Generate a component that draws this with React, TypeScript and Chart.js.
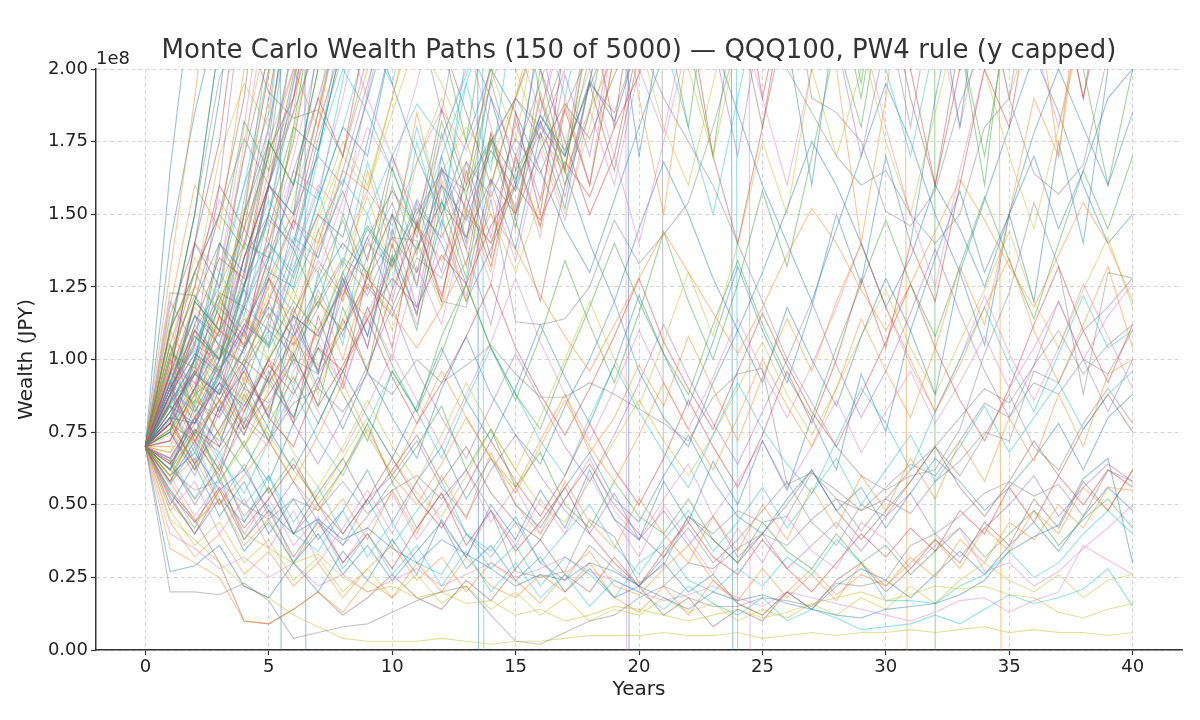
import React, { useEffect, useRef } from "react";
import { Chart, registerables } from "chart.js";

Chart.register(...registerables);

const TITLE = "Monte Carlo Wealth Paths (150 of 5000) — QQQ100, PW4 rule (y capped)";
const X_LABEL = "Years";
const Y_LABEL = "Wealth (JPY)";
const Y_OFFSET_LABEL = "1e8";
const FONT = "'DejaVu Sans', sans-serif";

const years = [0,1,2,3,4,5,6,7,8,9,10,11,12,13,14,15,16,17,18,19,20,21,22,23,24,25,26,27,28,29,30,31,32,33,34,35,36,37,38,39,40];
const xTicks = [0,5,10,15,20,25,30,35,40];
// wealth in millions of JPY (axis shows units of 1e8)
const yTicks = [0,25,50,75,100,125,150,175,200];

// tab10 palette
const palette: Record<string, string> = {
  b: "31,119,180", o: "255,127,14", g: "44,160,44", r: "214,39,40", p: "148,103,189",
  n: "140,86,75", k: "227,119,194", a: "127,127,127", y: "188,189,34", c: "23,190,207",
};

// Paths that leave the capped range early (values in millions JPY)
const fastPaths = [
  [70,165,235],
  [70,130,190,260],
  [70,110,150,210],
  [70,95,140,175,240],
  [70,120,105,160,230],
  [70,88,120,150,190,260],
  [70,100,90,130,170,230],
  [70,80,110,100,150,210],
  [70,105,135,120,175,215],
  [70,92,85,125,160,185,250],
  [70,75,100,140,130,175,240],
  [70,110,95,115,150,200,260],
  [70,85,120,110,145,170,230],
  [70,98,125,160,145,190,240],
  [70,78,95,88,120,160,210],
  [70,115,140,125,170,205],
  [70,90,70,105,140,180,225],
  [70,123,122,110,155,198,230],
  [70,100,125,170,195,180,260],
  [70,85,100,130,115,150,195,250],
  [70,80,78,100,125,160,150,210],
  [70,95,110,95,130,165,185,240],
  [70,105,88,120,140,135,180,230],
  [70,72,90,115,105,145,175,220],
  [70,88,105,100,135,150,190,240],
  [70,82,96,123,118,160,198,215],
  [70,97,92,80,110,140,170,205],
  [70,110,130,150,176,160,195,230],
  [70,76,86,105,98,120,155,185,240],
  [70,90,82,95,120,140,130,170,220],
  [70,140,185,220],
  [70,118,160,145,200,250],
  [70,102,97,138,182,165,210],
  [70,87,112,135,128,172,190,235],
  [70,93,78,92,118,110,148,185,225],
  [70,108,150,197,215,192,183,186,170,205,260],
  [70,84,70,90,112,106,136,160,150,192,240],
  [70,79,101,94,126,148,140,176,205],
  [70,112,125,118,152,140,178,220],
  [70,96,103,88,104,130,162,155,196,240],
];
const fastColors = "bogrpnkaycbogrpnkaycbogrpnkaycbogrpakayc";

// Paths that wander upward and leave the range between years 9 and 22
const midPaths = [
  [70,85,65,95,78,110,90,130,105,150,125,175,145,205],
  [70,62,84,70,98,80,115,95,130,108,150,125,170,140,190,160,215],
  [70,100,80,115,92,128,105,145,120,165,138,185,150,120,160,190,225],
  [70,58,76,62,88,72,102,84,118,96,135,110,155,128,175,145,200,165,215],
  [70,92,72,60,82,100,78,115,92,130,104,148,120,165,135,185,150,210],
  [70,75,60,82,98,80,110,90,126,104,145,118,165,138,112,150,182,156,196,230],
  [70,105,82,98,76,94,118,96,128,104,140,115,160,132,178,148,120,160,195,165,205],
  [70,66,80,64,86,72,96,110,90,118,100,132,112,150,126,170,142,190,160,215],
  [70,80,98,82,104,120,100,128,148,124,160,136,178,150,196,165,210],
  [70,60,74,86,70,90,108,88,114,132,110,140,118,152,130,170,145,188,160,205],
  [70,95,115,96,124,104,135,158,132,168,142,180,152,195,165,225],
  [70,88,74,96,110,92,80,106,128,108,136,116,148,126,162,138,178,152,196,232],
  [70,70,88,74,94,82,104,122,100,130,150,126,162,138,178,150,192,165,218],
  [70,102,122,104,90,114,138,118,150,128,166,142,182,156,196,240],
  [70,78,64,84,96,80,70,92,114,96,124,146,122,156,132,170,146,186,160,205],
  [70,84,100,86,74,94,112,96,122,142,120,154,130,168,142,182,155,198,170,215],
  [70,90,106,122,104,128,110,138,158,134,170,146,186,160,202],
  [70,66,80,92,78,70,88,106,90,116,134,112,144,122,158,134,172,148,186,160,200,178,220],
  [70,86,96,82,100,116,98,124,108,136,154,130,166,142,176,152,190,166,205],
  [70,74,88,102,118,100,124,106,134,156,132,168,190,162,200,175,222],
  [70,82,96,88,104,118,108,126,140,130,150,138,160,148,172,158,184,170,196,182,210],
  [70,68,80,94,86,100,92,110,124,114,132,146,134,152,140,162,178,164,186,205],
  [70,96,84,100,114,104,120,110,130,146,134,152,142,160,176,162,184,172,194,215],
  [70,64,76,70,84,98,88,104,96,114,128,118,136,126,146,160,148,168,156,180,198,230],
  [70,90,104,96,112,128,116,134,122,142,158,146,166,152,174,190,176,200,225],
  [70,78,72,86,100,92,108,120,110,128,118,138,154,142,162,150,172,188,176,198,215],
  [70,100,92,110,124,114,132,150,138,158,146,168,186,172,194,220],
  [70,72,86,80,96,110,102,118,134,122,142,130,150,168,156,176,164,186,206],
  [70,86,80,94,108,100,116,132,120,140,158,144,164,180,168,190,212],
  [70,94,108,100,118,136,124,144,162,150,170,188,176,198,225],
];
const midColors = "cbogrpnkaycbogrpnkaybogrpnkayc";

// Paths that hover around or above the cap through the later years
const highPaths = [
  [70,90,105,120,110,135,150,170,160,190,220,240,210,230,260,250,280,300,260,240,230,260,240,280,250,230,240,190,185,175,151,146,158,188,210,250,280,300,320,340,360],
  [70,65,80,72,90,85,100,95,110,125,115,135,128,150,140,165,180,170,195,185,210,190,175,160,140,120,100,85,70,60,55,60,62,76,102,123,154,132,88,130,128],
  [70,75,88,95,82,100,115,108,125,140,132,150,165,158,175,190,180,205,220,210,230,250,235,260,240,220,200,185,170,160,165,150,140,150,180,190,164,157,167,205,240],
  [70,88,102,95,125,150,138,172,210,250,230,290,260,310,240,200,260,320,280,230,170,220,290,260,330,280,210,160,220,300,350,290,230,180,240,300,260,330,290,230,260],
  [70,95,118,108,140,170,200,180,230,270,240,300,360,320,260,210,270,330,300,240,190,150,210,270,320,380,310,250,200,140,190,260,320,280,340,290,230,170,240,310,280],
  [70,110,130,150,138,175,160,200,245,220,270,240,210,175,230,290,350,300,250,330,280,220,180,240,300,270,330,290,240,195,250,310,260,210,160,230,300,270,320,260,220],
  [70,78,100,118,108,135,160,190,170,215,260,230,280,250,200,240,300,270,220,180,240,300,350,300,240,190,230,280,250,300,350,300,240,200,250,310,270,220,280,330,290],
  [70,92,110,125,145,130,165,190,220,200,250,220,185,230,280,260,210,170,220,270,240,290,260,210,170,220,280,250,300,270,220,180,230,280,250,300,260,210,250,230,270],
  [70,72,90,105,98,120,140,130,155,180,165,195,230,210,180,150,185,220,200,170,140,175,210,250,220,190,160,200,240,215,180,150,125,165,200,240,210,180,220,260,230],
  [70,68,85,100,115,105,128,150,175,160,190,220,205,250,230,200,175,150,180,215,250,230,200,170,210,250,230,270,240,210,175,150,185,220,200,170,145,180,215,250,280],
  [70,82,95,110,126,140,128,155,180,210,195,230,270,240,290,260,220,190,230,270,250,210,180,150,190,230,260,300,270,230,200,170,210,250,230,270,240,200,230,270,250],
  [70,66,80,92,84,100,115,108,126,145,132,155,140,120,138,160,182,165,140,120,145,168,150,128,110,130,152,175,160,140,118,135,160,145,125,150,178,200,180,160,185],
  [70,60,75,86,78,92,106,98,112,126,116,104,118,134,150,138,122,108,96,112,128,144,130,116,102,118,136,152,140,124,110,126,144,162,148,132,118,136,154,140,120],
  [70,85,95,105,98,112,105,120,135,128,142,141,120,118,155,113,112,114,125,148,133,143,154,180,210,240],
  [70,62,75,68,80,72,85,90,82,95,88,100,92,98,105,95,87,87,92,88,83,78,72,87,95,97,57,61,55,48,52,62,70,80,90,85,98,110,95,105,112],
  [70,100,130,115,150,175,160,200,230,260,240,280,250,230,210,240,190,160,185,230,280,250,210,170,230,280,330,280,230,190,240,300,260,210,170,220,280,250,200,160,200],
  [70,85,110,100,135,160,145,180,210,240,270,250,300,280,260,230,200,175,150,170,210,250,220,170,140,180,230,270,310,280,240,200,160,200,250,300,270,230,190,230,280],
  [70,95,120,140,125,160,190,220,250,230,260,240,210,185,160,190,215,240,280,250,300,340,300,260,220,180,220,260,300,270,230,190,160,210,260,300,270,230,190,240,220],
  [70,78,90,110,102,128,148,135,165,195,225,250,230,210,190,170,195,225,255,300,270,230,200,240,280,320,290,250,210,170,210,250,300,270,230,190,240,290,260,220,250],
  [70,105,130,155,140,175,200,230,215,190,170,150,175,200,230,210,185,215,250,290,260,220,250,300,270,230,200,240,280,330,300,260,220,180,220,260,300,270,240,200,230],
  [70,88,112,100,130,155,140,172,200,185,165,145,170,195,220,245,280,250,220,260,300,270,240,200,240,280,320,290,250,210,240,280,320,290,250,300,340,300,260,220,250],
  [70,75,95,88,110,132,120,148,170,158,185,210,195,175,150,130,155,175,200,230,210,180,160,195,230,260,230,200,170,200,240,270,300,260,230,190,220,260,300,270,240],
  [70,92,115,105,135,160,185,210,240,220,195,170,150,175,200,185,165,145,130,155,180,205,230,210,185,160,140,120,145,170,195,175,150,130,155,180,205,185,160,140,150],
];
const highColors = "aaabogrpkycboaagrnpkcyb";

// Paths that stay in the middle band and then climb late
const lateRisers = [
  [70,58,66,50,60,72,58,48,62,76,60,50,64,80,66,54,70,86,70,58,74,92,76,62,80,100,84,70,90,114,96,80,104,132,112,150,190,170,230,270,300],
  [70,80,64,76,92,76,62,78,96,80,66,84,104,86,72,90,112,94,78,98,122,102,84,106,132,110,92,118,150,126,170,140,190,230,200,260,300,280,320,360,400],
  [70,62,74,58,70,84,68,56,70,86,70,58,74,92,76,62,80,100,120,100,84,106,130,108,140,175,150,200,240,210,260,300,280,330,300,350,400,380,420,460,500],
  [70,54,44,56,42,52,64,50,40,52,66,52,42,56,72,58,46,60,78,62,50,66,86,70,56,74,96,78,100,128,104,140,120,160,200,180,230,210,260,240,280],
  [70,76,90,74,62,78,94,78,96,118,98,82,102,126,104,86,108,134,112,92,116,144,120,100,126,158,132,170,210,180,230,200,250,220,270,240,290,260,300,280,320],
];
const lateColors = "obyrg";

// Paths that stay low
const lowPaths = [
  [70,20,20,19,23,17,4,6,8,9,13,17,20,22,12,3,2,6,10,12,18,22,18,15,15,18,17,15,23,22,24,36,40,46,54,58,53,57,46,62,58],
  [70,62,55,58,50,45,52,48,58,47,55,60,52,62,48,27,25,27,45,39,23,29,46,40,48,44,46,61,52,41,52,47,58,65,75,72,96,92,110,118,128],
  [70,27,29,36,22,18,30,20,34,24,38,26,45,32,50,38,55,42,62,45,38,58,44,65,50,72,55,80,62,95,75,110,88,130,105,150,120,175,140,200,230],
  [70,45,38,30,22,18,12,8,4,3,3,3,4,3,2,3,3,4,5,5,5,6,5,5,6,4,5,6,5,6,6,7,6,7,8,6,7,6,6,5,6],
  [70,50,42,55,40,35,30,33,25,20,22,18,20,16,17,12,14,10,12,15,14,12,10,12,14,11,13,16,18,20,17,19,22,21,22,19,18,13,11,14,16],
  [70,55,42,60,38,50,30,45,28,40,26,36,22,34,20,30,18,26,15,24,20,14,22,16,12,18,10,14,11,7,8,9,12,9,14,19,16,18,21,28,15],
  [70,40,35,28,32,25,30,22,26,20,24,28,22,26,30,25,28,32,27,24,20,17,19,22,18,15,20,18,16,14,12,10,13,17,18,13,17,20,36,31,26],
  [70,60,68,55,62,48,40,45,38,42,35,30,38,33,28,22,26,24,30,27,22,18,14,20,17,19,16,14,12,11,14,15,16,19,24,34,39,43,59,66,30],
  [70,48,58,40,52,35,48,30,42,55,40,58,44,32,48,36,52,40,60,45,32,50,38,26,42,30,46,34,28,44,38,28,36,42,27,30,22,27,35,42,50],
  [70,35,30,25,10,9,14,20,13,24,18,30,20,32,22,18,26,20,30,18,13,22,12,24,17,28,18,26,17,30,22,32,25,38,30,44,38,50,42,56,55],
  [70,58,44,52,36,45,30,42,52,38,55,40,60,45,68,50,40,58,44,35,52,40,30,46,34,50,38,56,42,60,48,66,52,72,58,80,65,88,70,95,100],
  [70,55,45,30,10,9,14,20,12,18,26,18,14,24,17,28,38,26,20,32,22,12,18,8,14,10,20,14,24,30,20,28,38,30,44,36,52,42,58,48,62],
  [70,50,64,46,58,40,52,38,48,62,44,58,70,52,66,50,42,56,68,52,44,60,74,58,46,40,52,62,48,56,42,54,66,58,48,56,66,78,62,80,88],
  [70,58,72,52,44,60,40,34,48,32,44,30,26,40,28,36,22,32,26,18,30,36,24,20,28,22,32,26,38,30,17,17,16,22,26,34,25,30,40,48,40],
  [70,62,80,58,72,54,66,50,62,78,58,70,84,62,76,56,68,50,42,58,46,40,52,38,30,44,34,28,40,30,36,26,34,42,32,40,48,36,45,52,42],
  [70,52,40,55,38,48,32,44,30,40,28,42,54,36,48,34,44,56,40,30,22,34,44,32,26,38,28,20,30,40,32,42,34,48,40,56,44,60,50,62,56],
  [70,57,70,50,64,46,58,44,36,52,60,72,56,46,62,74,60,48,40,54,38,48,36,46,32,40,28,36,44,34,46,54,40,32,42,50,60,46,56,64,58],
  [70,65,50,64,44,56,40,54,66,50,62,74,58,70,54,44,38,52,64,50,40,32,46,38,30,40,50,62,48,38,48,58,70,56,46,58,72,60,76,88,75],
  [70,48,36,44,30,38,24,32,20,28,18,26,16,22,14,20,12,18,10,14,12,18,13,16,10,14,11,16,12,18,14,22,16,24,30,24,20,26,18,24,26],
  [70,66,52,68,50,60,44,56,40,52,36,48,58,40,34,46,30,40,50,36,26,38,48,34,44,56,42,54,66,50,62,74,58,70,84,68,80,92,76,88,96],
  [70,44,32,40,26,34,22,30,18,28,36,24,32,20,30,24,16,26,34,22,19,28,36,24,16,12,20,28,19,26,22,30,38,28,42,34,48,40,56,48,62],
  [70,60,46,58,40,52,36,46,30,42,54,38,50,62,44,56,40,52,66,48,38,52,64,46,58,72,56,70,86,68,82,96,78,92,108,90,104,120,100,115,126],
  [70,64,52,62,46,56,40,50,36,46,58,42,54,40,32,44,30,24,36,28,22,32,42,30,38,48,58,44,36,50,46,58,70,60,74,88,70,62,78,90,78],
  [70,53,40,52,34,44,30,40,26,36,24,34,44,28,36,24,32,20,28,18,22,30,20,26,16,12,20,14,22,28,24,18,26,34,26,36,44,34,46,56,48],
];
const lowColors = "aabyyckbkoonbcgrpnycokab";

// Paths that stay in the middle band
const middlePaths = [
  [70,75,62,84,70,58,78,94,76,96,80,66,90,108,88,74,64,84,100,120,96,80,70,92,110,92,118,100,84,108,128,110,135,158,130,150,170,145,165,190,200],
  [70,80,62,76,90,72,58,74,92,74,60,78,96,80,66,56,72,88,68,80,98,84,108,90,72,94,114,96,120,140,118,100,82,98,118,135,110,92,112,132,104],
  [70,62,80,66,54,72,90,72,60,78,96,82,66,86,104,88,72,60,80,98,82,68,56,74,92,76,64,54,72,90,78,62,82,100,118,98,82,102,122,104,110],
  [70,84,68,90,74,96,80,104,88,72,96,82,108,126,104,88,76,98,118,140,120,102,88,112,134,112,94,80,104,126,148,126,108,132,156,134,114,140,165,145,170],
  [70,76,62,74,88,74,62,52,66,80,66,54,46,60,76,62,50,44,58,72,86,72,60,74,90,106,88,74,90,108,124,104,88,106,124,144,120,104,124,142,118],
  [70,64,78,92,76,88,102,84,98,114,94,78,92,108,126,104,88,74,90,108,128,106,90,76,96,116,98,82,70,88,106,126,104,86,72,90,112,132,110,92,112],
  [70,90,74,62,78,94,78,64,80,98,118,96,80,66,84,102,86,70,58,74,92,112,94,78,64,82,100,120,98,80,96,116,138,116,96,80,98,120,100,82,100],
  [70,58,72,86,70,84,100,82,68,84,102,86,70,88,106,128,106,88,72,90,110,92,76,94,114,96,80,98,118,140,118,98,82,100,122,102,86,104,126,108,90],
];
const middleColors = "bocgyrpk";

// Paths that blow up above the cap and then collapse (near-vertical drops)
const crashPaths = [
  [70,110,150,210,400,3000,-3000],
  [70,95,140,190,260,500,3000,-3000],
  [70,90,120,110,150,180,230,300,400,500,700,900,1200,3000,-3000],
  [70,85,100,130,160,200,260,330,420,520,640,800,1000,3000,-1200],
  [70,100,140,130,180,240,300,380,450,560,700,850,1000,1200,1400,1700,2000,2300,2600,3000,-3000],
  [70,80,95,88,110,130,125,155,180,170,210,260,320,400,500,650,800,1000,1500,3000,-2000],
  [70,92,115,108,135,160,150,185,220,280,350,420,500,600,700,850,1000,1300,1700,2200,3000,22,30,28,35,40,36,45,52,48,56,64,60,72,85,80,92,88,100,95,110],
  [70,84,78,96,112,105,130,150,142,175,210,260,320,390,470,560,680,800,950,1100,1400,1800,2300,3000,-750],
  [70,76,90,104,98,120,142,135,160,190,230,280,340,410,500,600,720,860,1000,1200,1500,1900,2500,4000,-10],
  [70,88,102,96,118,140,165,158,190,230,280,340,410,500,600,720,860,1000,1200,1450,1700,2000,2500,2800,3000,-3000],
  [70,82,95,110,104,125,148,140,170,200,240,290,350,420,500,600,720,860,1000,1150,1300,1450,1600,1750,1900,2000,2100,2200,2300,2400,2500,-400],
  [70,90,108,100,126,150,180,172,210,260,320,390,480,600,750,900,1100,1350,1650,2000,2400,2900,3500,4200,5000,6000,7200,8600,10000,12000,15000,20000,0],
  [70,78,92,86,104,122,115,140,165,158,190,225,270,320,380,450,530,620,720,830,950,1080,1200,1320,1450,1580,1700,1820,1900,1950,2000,1950,1980,2000,2000,-1000],
];
const crashColors = "bbbckbabckogo";

const groups: [number[][], string][] = [
  [fastPaths, fastColors],
  [midPaths, midColors],
  [highPaths, highColors],
  [lateRisers, lateColors],
  [lowPaths, lowColors],
  [middlePaths, middleColors],
  [crashPaths, crashColors],
];

const overlayText = {
  id: "overlayText",
  afterDraw(chart: any) {
    const { ctx, chartArea } = chart;
    ctx.save();
    ctx.fillStyle = "#333333";
    ctx.font = `26px ${FONT}`;
    ctx.textAlign = "center";
    ctx.textBaseline = "alphabetic";
    ctx.fillText(TITLE, (chartArea.left + chartArea.right) / 2, 58);
    ctx.fillStyle = "#222222";
    ctx.font = `18px ${FONT}`;
    ctx.textAlign = "left";
    ctx.fillText(Y_OFFSET_LABEL, chartArea.left, 64);
    ctx.restore();
  },
};

export default function App() {
  const ref = useRef<HTMLCanvasElement | null>(null);
  useEffect(() => {
    if (!ref.current) return;
    const datasets: any[] = [];
    groups.forEach(([paths, colors]) => {
      paths.forEach((p, i) => {
        datasets.push({
          data: p.map((v, j) => ({ x: years[j], y: v })),
          borderColor: `rgba(${palette[colors[i]]},0.45)`,
          borderWidth: 1.1,
          pointRadius: 0,
          tension: 0,
          fill: false,
        });
      });
    });
    const chart = new Chart(ref.current, {
      type: "line",
      data: { datasets },
      options: {
        animation: false,
        responsive: false,
        events: [],
        layout: { padding: { top: 69, right: 18, left: 0, bottom: 0 } },
        plugins: { legend: { display: false }, tooltip: { enabled: false }, title: { display: false } },
        scales: {
          x: {
            type: "linear",
            min: -2,
            max: 42,
            afterBuildTicks: (axis: any) => { axis.ticks = xTicks.map((v) => ({ value: v })); },
            afterFit: (axis: any) => { axis.height = 70; },
            ticks: { font: { family: FONT, size: 18 }, color: "#222222", padding: 2, maxRotation: 0, autoSkip: false, callback: (v: any) => String(v) },
            grid: { color: "#cccccc", lineWidth: 0.8, tickColor: "#333333", tickLength: 5, tickWidth: 1.2, tickBorderDash: [] },
            border: { color: "#333333", width: 1.5, dash: [4, 3] },
            title: { display: true, text: X_LABEL, font: { family: FONT, size: 20 }, color: "#222222", padding: { top: 0, bottom: 18 } },
          },
          y: {
            type: "linear",
            min: 0,
            max: 200,
            afterBuildTicks: (axis: any) => { axis.ticks = yTicks.map((v) => ({ value: v })); },
            afterFit: (axis: any) => { axis.width = 96; },
            ticks: { font: { family: FONT, size: 18 }, color: "#222222", padding: 3, autoSkip: false, callback: (v: any) => (Number(v) / 100).toFixed(2) },
            grid: { color: "#cccccc", lineWidth: 0.8, tickColor: "#333333", tickLength: 5, tickWidth: 1.2, tickBorderDash: [] },
            border: { color: "#333333", width: 1.5, dash: [4, 3] },
            title: { display: true, text: Y_LABEL, font: { family: FONT, size: 20 }, color: "#222222", padding: { top: 15, bottom: 0 } },
          },
        },
      },
      plugins: [overlayText],
    });
    return () => chart.destroy();
  }, []);
  return (
    <div style={{ position: "absolute", left: 0, top: 0, width: 1200, height: 720, background: "#ffffff" }}>
      <canvas ref={ref} width={1200} height={720} />
    </div>
  );
}
